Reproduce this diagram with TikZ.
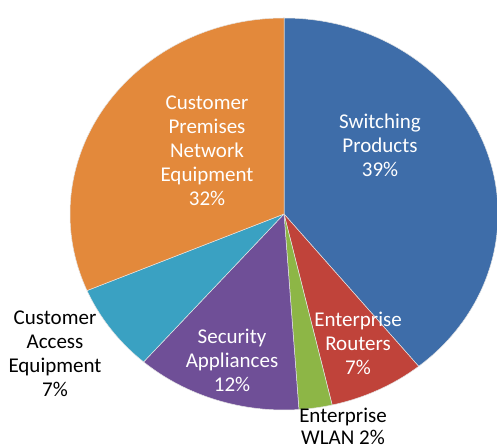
\documentclass[tikz,border=0pt]{standalone}
\usepackage{fontspec}
\setmainfont{Carlito}
\definecolor{cblue}{HTML}{3E6DA9}
\definecolor{corange}{HTML}{E3893B}
\definecolor{cred}{HTML}{C0433A}
\definecolor{cgreen}{HTML}{8DB646}
\definecolor{cpurple}{HTML}{6F4F97}
\definecolor{cteal}{HTML}{3AA1C2}
\tikzset{
  slice/.style={draw=white!80!gray, line width=0.5pt, line join=round},
  inlabel/.style={text=white, align=center, inner sep=0pt, font=\fontsize{21}{24}\selectfont},
  outlabel/.style={text=black, align=center, inner sep=0pt, font=\fontsize{21}{24}\selectfont}
}
\newcommand\myslice[3]{%
  \filldraw[fill=#3, slice] (C) -- ++(#1:214pt and 196pt)
    arc[start angle=#1, end angle=#2, x radius=214pt, y radius=196pt] -- cycle;}
\begin{document}
\begin{tikzpicture}[x=1pt,y=1pt]
\useasboundingbox (0,0) rectangle (497,447);
\coordinate (C) at (284,233);
\myslice{90}{-51}{cblue}
\myslice{-51}{-77}{cred}
\myslice{-77}{-86}{cgreen}
\myslice{-86}{-131}{cpurple}
\myslice{-131}{-157}{cteal}
\myslice{-157}{-270}{corange}
\node[inlabel] (sw) at (380,302) {Switching\\Products\\39\%};
\node[inlabel] (cpe) at (207,296) {Customer\\Premises\\Network\\Equipment\\32\%};
\node[inlabel] (er) at (358,104) {Enterprise\\Routers\\7\%};
\node[inlabel] (sa) at (232,87) {Security\\Appliances\\12\%};
\node[outlabel] (cae) at (55,93) {Customer\\Access\\Equipment\\7\%};
\node[outlabel, font=\fontsize{21}{22}\selectfont] (wlan) at (343,21) {Enterprise\\WLAN 2\%};
\end{tikzpicture}
\end{document}
